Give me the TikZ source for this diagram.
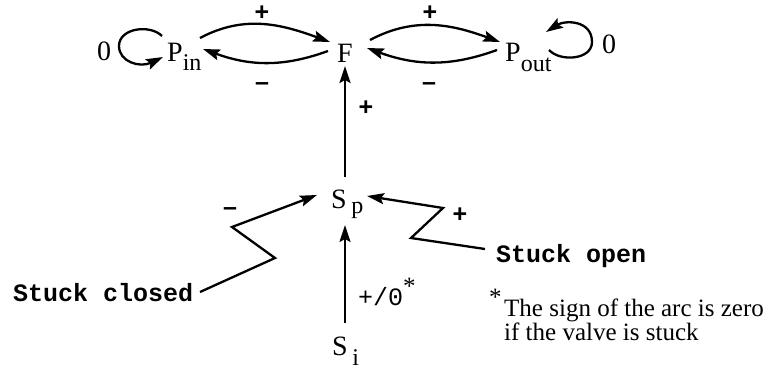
\documentclass[tikz,border=0pt]{standalone}
\usepackage{fontspec}
\setmainfont{Liberation Serif}
\setsansfont{Liberation Sans}
\setmonofont{Liberation Mono}
\usetikzlibrary{arrows.meta}
\newcommand\mysub[2]{\raisebox{#1}{\fontsize{24}{24}\selectfont #2}}
\begin{document}
\begin{tikzpicture}[x=1pt,y=-1pt,
  lbl/.style={inner sep=0pt, anchor=base west, font=\fontsize{28}{30}\selectfont},
  mono/.style={inner sep=0pt, anchor=base west, font=\ttfamily\bfseries\fontsize{25}{27}\selectfont},
  note/.style={inner sep=0pt, anchor=base west, font=\fontsize{25}{27}\selectfont},
  sgn/.style={inner sep=0pt, font=\sffamily\bfseries\fontsize{25}{25}\selectfont},
  arc/.style={line width=2.3pt, line join=miter, -{Stealth[length=17pt,width=11pt,inset=3pt]}},
  thinarc/.style={arc, line width=1.9pt}
]
\useasboundingbox (0,0) rectangle (773,370);
% nodes
\node[lbl] (pin) at (167,61) {P\mysub{-9pt}{in}};
\node[lbl] (f) at (337,62) {F};
\node[lbl] (pout) at (505,61) {P\mysub{-10pt}{out}};
\node[lbl] (sp) at (331,208) {S\,\mysub{-5pt}{p}};
\node[lbl] (si) at (332,355) {S\,\mysub{-10pt}{i}};
\node[lbl] (zl) at (97,60) {0};
\node[lbl] (zr) at (602,53) {0};
\node[mono] (closed) at (13,301) {Stuck closed};
\node[mono] (open) at (496,262) {Stuck open};
\node[note] (star) at (489,305) {*};
\node[note] (fn1) at (504,316) {The sign of the arc is zero};
\node[note] (fn2) at (504,340) {if the valve is stuck};
% sign labels
\node[sgn] (lp1) at (262,13) {+};
\node[sgn] (lm1) at (262,87) {--};
\node[sgn] (lp2) at (430,13) {+};
\node[sgn] (lm2) at (429,87) {--};
\node[sgn] (lpv) at (366,108) {+};
\node[sgn] (lmc) at (230,212) {--};
\node[sgn] (lpo) at (460,215) {+};
\node[mono, font=\ttfamily\fontsize{25}{27}\selectfont] (lsi) at (358,305) {+/0{\rmfamily\raisebox{11pt}{*}}};
% top arcs
\draw[arc] ([xshift=33pt,yshift=23pt]pin.base west) to[out=28,in=160] ([xshift=-7pt,yshift=20pt]f.base west);
\draw[arc] ([xshift=-9pt,yshift=11pt]f.base west) to[out=200,in=-20] ([xshift=36pt,yshift=12pt]pin.base west);
\draw[arc] ([xshift=33pt,yshift=22pt]f.base west) to[out=28,in=160] ([xshift=-5pt,yshift=19pt]pout.base west);
\draw[arc] ([xshift=-8pt,yshift=11pt]pout.base west) to[out=200,in=-20] ([xshift=30pt,yshift=14pt]f.base west);
% self loops
\draw[arc] ([xshift=-5pt,yshift=25pt]pin.base west) .. controls (150,24) and (119,28) .. (119,46)
  .. controls (119,62) and (140,68) .. ([xshift=-4pt,yshift=4pt]pin.base west);
\draw[arc] ([xshift=44pt,yshift=11pt]pout.base west) .. controls (560,62) and (592,60) .. (592,42)
  .. controls (592,20) and (565,20) .. ([xshift=41pt,yshift=29pt]pout.base west);
% vertical arrows
\draw[arc] ([xshift=14pt,yshift=31pt]sp.base west) -- ([xshift=8pt,yshift=-4pt]f.base west);
\draw[thinarc] ([xshift=13pt,yshift=32pt]si.base west) -- ([xshift=14pt,yshift=-17pt]sp.base west);
% zigzags
\draw[arc] ([xshift=187pt,yshift=9pt]closed.base west) -- (275,258) -- (232,227) -- ([xshift=-14pt,yshift=13pt]sp.base west);
\draw[arc] ([xshift=-11pt,yshift=13pt]open.base west) -- (411,238) -- (443,208) -- ([xshift=36pt,yshift=12pt]sp.base west);
\end{tikzpicture}
\end{document}
